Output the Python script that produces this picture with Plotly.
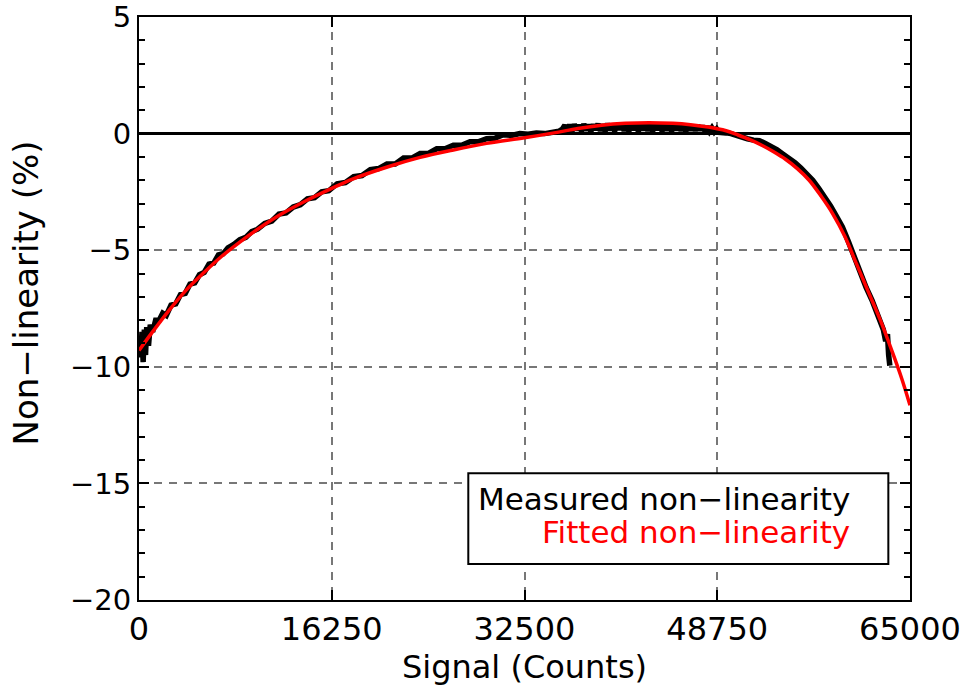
import plotly.graph_objects as go

# ---------------- data ----------------
x_ticks = [0, 16250, 32500, 48750, 65000]
x_tick_labels = ["0", "16250", "32500", "48750", "65000"]
y_ticks = [-20, -15, -10, -5, 0, 5]

meas_x = [150, 250, 350, 450, 550, 650, 800, 950, 1150, 1400, 1700, 2000, 2300, 2700,
          3100, 3500, 3900, 4300, 4700, 5100, 5500, 5900, 6300, 6700, 7100, 7500, 8000,
          8500, 9000, 9500, 10000, 10600, 11200, 11800, 12400, 13000, 13600, 14200,
          14800, 15400, 16000, 16700, 17400, 18100, 18800, 19500, 20200, 20900, 21600,
          22300, 23000, 23700, 24400, 25100, 25800, 26500, 27200, 27900, 28600, 29300,
          30000, 30700, 31400, 32100, 32800, 33500, 34200, 34900, 35400,
          35700, 35900, 36100, 36300, 36500, 36700, 36900, 37100, 37300, 37500, 37700,
          37900, 38100, 38300, 38500, 38700, 38900, 39100, 39300, 39500, 39700, 39900,
          40100, 40300, 40500, 40700, 40900, 41100, 41300, 41500, 41700, 41900, 42100,
          42300, 42500, 42700, 42900, 43100, 43300, 43500, 43700, 43900, 44100, 44300,
          44500, 44700, 44900, 45100, 45300, 45500, 45700, 45900, 46100, 46300, 46500,
          46700, 46900, 47100, 47300, 47500, 47700, 47900, 48100, 48300, 48500, 48700,
          48900, 49100, 49500, 49900, 50300,
          50800, 51300, 51800, 52300, 52800, 53300, 53800, 54300, 54800, 55300, 55800,
          56300, 56800, 57300, 57800, 58300, 58800, 59300, 59800, 60300, 60800, 61300,
          61800, 62200, 62500, 62750, 62950, 63100, 63200, 63300]
meas_y = [-9.6, -8.5, -9.8, -8.4, -9.5, -8.3, -9.1, -8.2, -8.5, -8.0, -8.0, -7.7, -7.8, -7.35,
          -7.3, -6.9, -6.85, -6.45, -6.4, -6.05, -5.95, -5.6, -5.55, -5.2, -5.15, -4.9, -4.75,
          -4.55, -4.45, -4.2, -4.1, -3.85, -3.75, -3.45, -3.4, -3.15, -3.05, -2.8,
          -2.75, -2.5, -2.45, -2.15, -2.1, -1.85, -1.8, -1.55, -1.5, -1.3, -1.3,
          -1.05, -1.05, -0.85, -0.85, -0.65, -0.65, -0.5, -0.5, -0.35, -0.35, -0.22,
          -0.2, -0.05, -0.08, 0.0, -0.03, 0.02, 0.0, 0.05, 0.1,
          0.2, 0.36, 0.12, 0.38, 0.1, 0.4, 0.15, 0.37, 0.11, 0.41, 0.14,
          0.38, 0.09, 0.4, 0.16, 0.42, 0.12, 0.39, 0.1, 0.43, 0.15, 0.4,
          0.11, 0.42, 0.17, 0.44, 0.12, 0.4, 0.1, 0.43, 0.16, 0.41, 0.09,
          0.44, 0.14, 0.4, 0.12, 0.43, 0.1, 0.41, 0.16, 0.42, 0.11, 0.4,
          0.13, 0.43, 0.1, 0.4, 0.15, 0.41, 0.12, 0.39, 0.1, 0.4, 0.14,
          0.37, 0.12, 0.36, 0.15, 0.33, 0.12, 0.3, 0.1, 0.25, 0.08, 0.2,
          0.05, 0.06, 0.03, 0.0, -0.08,
          -0.15, -0.22, -0.28, -0.3, -0.42, -0.55, -0.7, -0.88, -1.05, -1.25, -1.47,
          -1.72, -2.0, -2.35, -2.7, -3.1, -3.55, -4.0, -4.62, -5.3, -5.95, -6.6,
          -7.15, -7.65, -8.0, -8.4, -8.9, -8.6, -9.5, -9.95]

fit_x = [0, 1000, 2500, 4000, 5500, 7000, 8500, 10000, 12000, 14000, 16250, 18000, 21000,
         23700, 26500, 29300, 32500, 35000, 37000, 39000, 41000, 43000, 45000, 46500,
         48000, 49500, 50500, 51500, 52500, 53500, 54500, 55500, 56500, 57500, 58500,
         59500, 60500, 61500, 62500, 63500, 64300, 65000]
fit_y = [-9.3, -8.6, -7.6, -6.7, -5.95, -5.25, -4.65, -4.1, -3.45, -2.9, -2.35, -1.95, -1.42,
         -1.02, -0.7, -0.42, -0.18, 0.03, 0.22, 0.36, 0.44, 0.47, 0.44, 0.38,
         0.28, 0.12, -0.06, -0.26, -0.5, -0.78, -1.1, -1.5, -2.0, -2.68, -3.45,
         -4.4, -5.6, -6.8, -8.0, -9.35, -10.5, -11.65]

legend_labels = ["Measured non\u2212linearity", "Fitted non\u2212linearity"]
x_title = "Signal (Counts)"
y_title = "Non\u2212linearity (%)"

# ---------------- figure ----------------
FONT = "DejaVu Sans"
fig = go.Figure()
fig.add_trace(go.Scatter(x=meas_x, y=meas_y, mode="lines",
                         line=dict(color="black", width=5.5), showlegend=False))
fig.add_trace(go.Scatter(x=fit_x, y=fit_y, mode="lines", line_shape="spline",
                         line=dict(color="#ff0000", width=3.5), showlegend=False))

axis_common = dict(
    ticks="inside", ticklen=10, tickwidth=2, tickcolor="black",
    showline=True, linecolor="black", linewidth=2, mirror="ticks",
    showgrid=True, gridcolor="#777777", gridwidth=1.5, griddash="8px,7px",
    automargin=False, ticklabeloverflow="allow",
)

fig.update_layout(
    width=963, height=690,
    margin=dict(l=139, r=53, t=17, b=90),
    paper_bgcolor="white", plot_bgcolor="white",
    font=dict(family=FONT, color="black"),
    xaxis=dict(range=[0, 65000], tickmode="array", tickvals=x_ticks, ticktext=x_tick_labels,
               zeroline=False, tickfont=dict(family=FONT, size=32, color="black"),
               title=dict(text=x_title, font=dict(family=FONT, size=32), standoff=4),
               **axis_common),
    yaxis=dict(range=[-20, 5], tickmode="array", tickvals=y_ticks,
               zeroline=True, zerolinecolor="black", zerolinewidth=2.5,
               tickfont=dict(family=FONT, size=29, color="black"),
               minor=dict(dtick=1, tick0=0, ticks="inside", ticklen=6, tickwidth=2,
                          tickcolor="black", showgrid=False),
               **axis_common),
)

# y-axis title
fig.add_annotation(xref="paper", yref="paper", x=-0.1466, y=0.5274,
                   xanchor="center", yanchor="middle", showarrow=False, textangle=-90,
                   text=y_title, font=dict(family=FONT, size=34, color="black"))

# legend box
fig.add_shape(type="rect", xref="paper", yref="paper",
              x0=0.4271, x1=0.9719, y0=0.0617, y1=0.2173,
              line=dict(color="black", width=2), fillcolor="white", layer="above")
fig.add_annotation(xref="paper", yref="paper", x=0.9244, y=0.1732,
                   xanchor="right", yanchor="middle", showarrow=False,
                   text=legend_labels[0], font=dict(family=FONT, size=31, color="black"))
fig.add_annotation(xref="paper", yref="paper", x=0.9244, y=0.1158,
                   xanchor="right", yanchor="middle", showarrow=False,
                   text=legend_labels[1], font=dict(family=FONT, size=31, color="#ff0000"))

fig.write_html("out.html")
